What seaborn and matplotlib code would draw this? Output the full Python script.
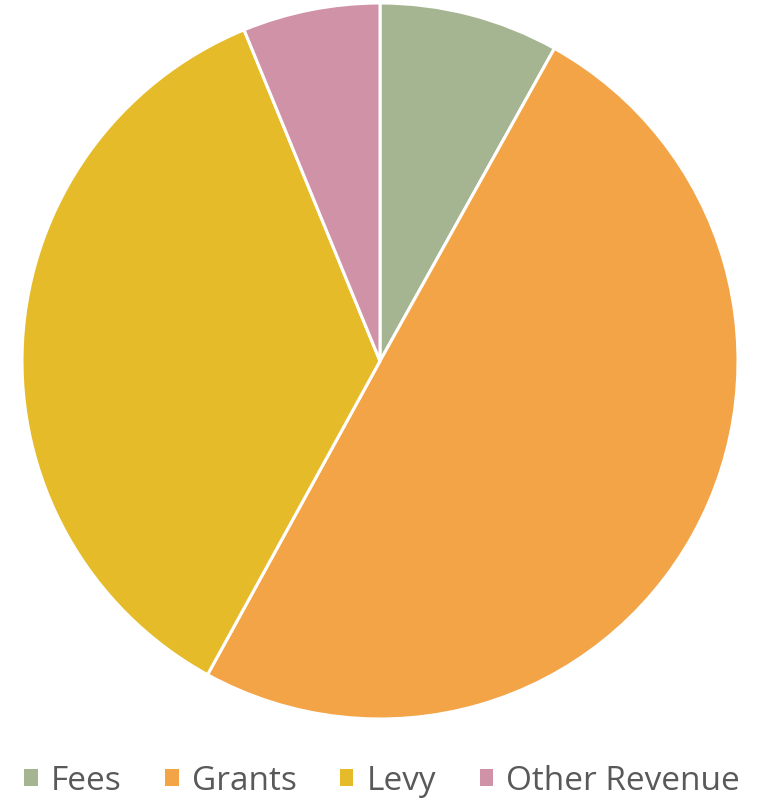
import matplotlib
matplotlib.use("Agg")
import matplotlib.pyplot as plt
import seaborn as sns

# === Dati ===
categories = ["Fees", "Grants", "Levy", "Other Revenue"]
values = [8.1, 49.9, 35.8, 6.2]
colors = ["#A5B592", "#F3A447", "#E5BB29", "#D092A7"]

sns.set_theme(style="white")
plt.rcParams["font.family"] = ["Open Sans", "DejaVu Sans"]

fig = plt.figure(figsize=(7.57, 8.04), dpi=100)
ax = fig.add_axes([22 / 757, 84 / 804, 716 / 757, 716 / 804])

wedges, _ = ax.pie(values, colors=sns.color_palette(colors), startangle=90,
                   counterclock=False,
                   wedgeprops=dict(edgecolor="white", linewidth=2.2))
ax.set_xlim(-1, 1)
ax.set_ylim(-1, 1)
ax.set_aspect("equal")
ax.axis("off")

leg = fig.legend(wedges, categories, loc="center", bbox_to_anchor=(0.505, 22 / 804),
                 ncol=4, frameon=False, fontsize=24, labelcolor="#595959",
                 handlelength=0.4, handleheight=0.4, handletextpad=0.4,
                 columnspacing=1.3)
for h in leg.legend_handles:
    h.set_linewidth(0)

fig.savefig("out.png", dpi=100)
